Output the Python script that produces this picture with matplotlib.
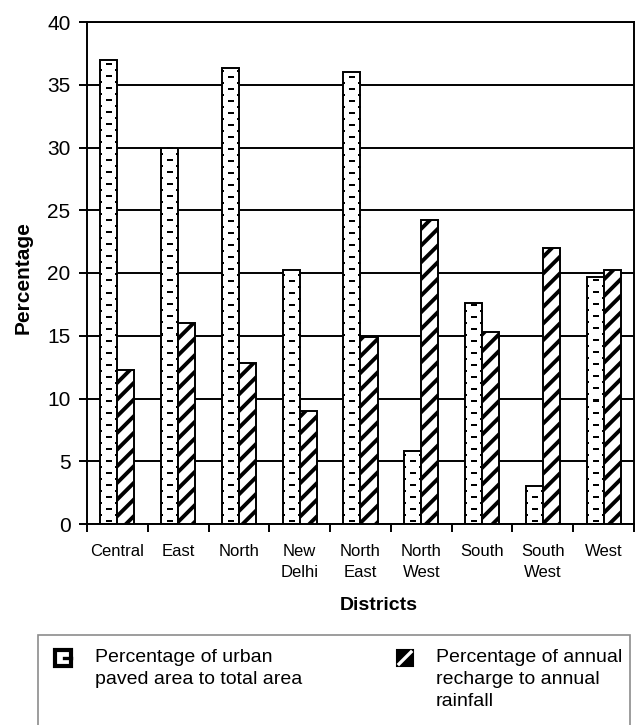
import numpy as np
import matplotlib
matplotlib.use("Agg")
import matplotlib.pyplot as plt
from matplotlib.patches import Rectangle
from matplotlib.lines import Line2D

plt.rcParams["font.family"] = ["Liberation Sans", "DejaVu Sans"]
plt.rcParams["hatch.linewidth"] = 2.8
plt.rcParams["hatch.color"] = "black"

# ── Data ─────────────────────────────────────────────────────────────────────
districts = ["Central", "East", "North", "New\nDelhi", "North\nEast",
             "North\nWest", "South", "South\nWest", "West"]
paved_pct = [37.0, 30.0, 36.3, 20.2, 36.0, 5.8, 17.6, 3.0, 19.7]
recharge_pct = [12.3, 16.0, 12.8, 9.0, 14.9, 24.2, 15.3, 22.0, 20.2]
y_ticks = [0, 5, 10, 15, 20, 25, 30, 35, 40]

paved_label = "Percentage of urban\npaved area to total area"
recharge_label = "Percentage of annual\nrecharge to annual\nrainfall"

W, H = 636, 725
BAR_W = 0.28
LW = 1.4


def dash_texture(h_px, w_px, period_x=17, period_y=13, dash=5, thick=2):
    """Staggered short horizontal dashes on white (1 = white, 0 = black)."""
    tex = np.ones((h_px, w_px))
    half_y = period_y // 2
    for row in range(2, h_px, half_y):
        shift = 0 if ((row - 2) // half_y) % 2 == 0 else period_x // 2
        for cx in range(period_x // 2 + shift - period_x, w_px + period_x, period_x):
            x0 = max(cx - dash // 2, 0)
            x1 = min(cx - dash // 2 + dash, w_px)
            if x1 > x0:
                tex[row:row + thick, x0:x1] = 0
    return tex


fig = plt.figure(figsize=(W / 100, H / 100), dpi=100)
ax = fig.add_axes([87 / W, 1 - 524 / H, (634 - 87) / W, (524 - 22) / H])

x = np.arange(len(districts))
ax.set_xlim(-0.5, len(districts) - 0.5)
ax.set_ylim(0, 40)

ax.set_yticks(y_ticks)
ax.yaxis.grid(True, color="black", linewidth=LW)
ax.set_axisbelow(True)

# urban paved bars: dashed texture clipped to each bar
paved_bars = ax.bar(x - BAR_W / 2, paved_pct, BAR_W, facecolor="none",
                    edgecolor="black", linewidth=LW, zorder=3)
for bar in paved_bars:
    x0, y0 = bar.get_x(), bar.get_y()
    x1, y1 = x0 + bar.get_width(), y0 + bar.get_height()
    (px0, py0), (px1, py1) = ax.transData.transform([(x0, y0), (x1, y1)])
    tex = dash_texture(max(int(round(py1 - py0)), 1), max(int(round(px1 - px0)), 1))
    ax.imshow(tex, extent=(x0, x1, y0, y1), origin="lower", cmap="gray",
              vmin=0, vmax=1, interpolation="nearest", aspect="auto", zorder=2)

# recharge bars: thick diagonal hatch
ax.bar(x + BAR_W / 2, recharge_pct, BAR_W, facecolor="white", edgecolor="black",
       linewidth=LW, hatch="//", zorder=3)
ax.set_xlim(-0.5, len(districts) - 0.5)
ax.set_ylim(0, 40)

ax.set_xticks(x)
ax.set_xticklabels(districts, fontsize=12, linespacing=1.45)
ax.tick_params(axis="x", which="major", length=0, pad=14.5)
ax.set_xticks(np.arange(-0.5, len(districts)), minor=True)
ax.tick_params(axis="x", which="minor", length=5.8, width=LW, direction="out")
ax.tick_params(axis="y", length=5.8, width=LW, direction="out", pad=6.0, labelsize=15)

for side in ["left", "right", "top", "bottom"]:
    ax.spines[side].set_linewidth(LW)
    ax.spines[side].set_color("black")

fig.text(23 / W, 1 - 278 / H, "Percentage", rotation=90, fontsize=15,
         fontweight="bold", ha="center", va="center")
fig.text(379 / W, 1 - 606 / H, "Districts", fontsize=14, fontweight="bold",
         ha="center", va="center")

# legend box, open at the bottom edge of the figure
fig.add_artist(Rectangle((38 / W, -0.02), (630 - 38) / W, (H - 635) / H + 0.02,
                         transform=fig.transFigure, fill=False,
                         edgecolor="#8c8c8c", linewidth=1.2))

key = 16
# paved key: heavy outlined square with a notch on the right
fig.add_artist(Rectangle((55 / W, 1 - 666 / H), key / W, key / H,
                         transform=fig.transFigure, facecolor="white",
                         edgecolor="black", linewidth=3.0))
fig.add_artist(Line2D([(55 + key - 7) / W, (55 + key) / W],
                      [1 - 658 / H, 1 - 658 / H], transform=fig.transFigure,
                      color="black", linewidth=2.4))
# recharge key: black square with white diagonal
fig.add_artist(Rectangle((397 / W, 1 - 666 / H), key / W, key / H,
                         transform=fig.transFigure, facecolor="black",
                         edgecolor="black", linewidth=1.5))
fig.add_artist(Line2D([399 / W, (397 + key - 2) / W],
                      [1 - 664 / H, 1 - 652 / H], transform=fig.transFigure,
                      color="white", linewidth=2.4))

fig.text(95 / W, 1 - 649 / H, paved_label, fontsize=14, ha="left", va="top",
         linespacing=1.38)
fig.text(436 / W, 1 - 649 / H, recharge_label, fontsize=14, ha="left", va="top",
         linespacing=1.38)

fig.savefig("out.png", dpi=100)
